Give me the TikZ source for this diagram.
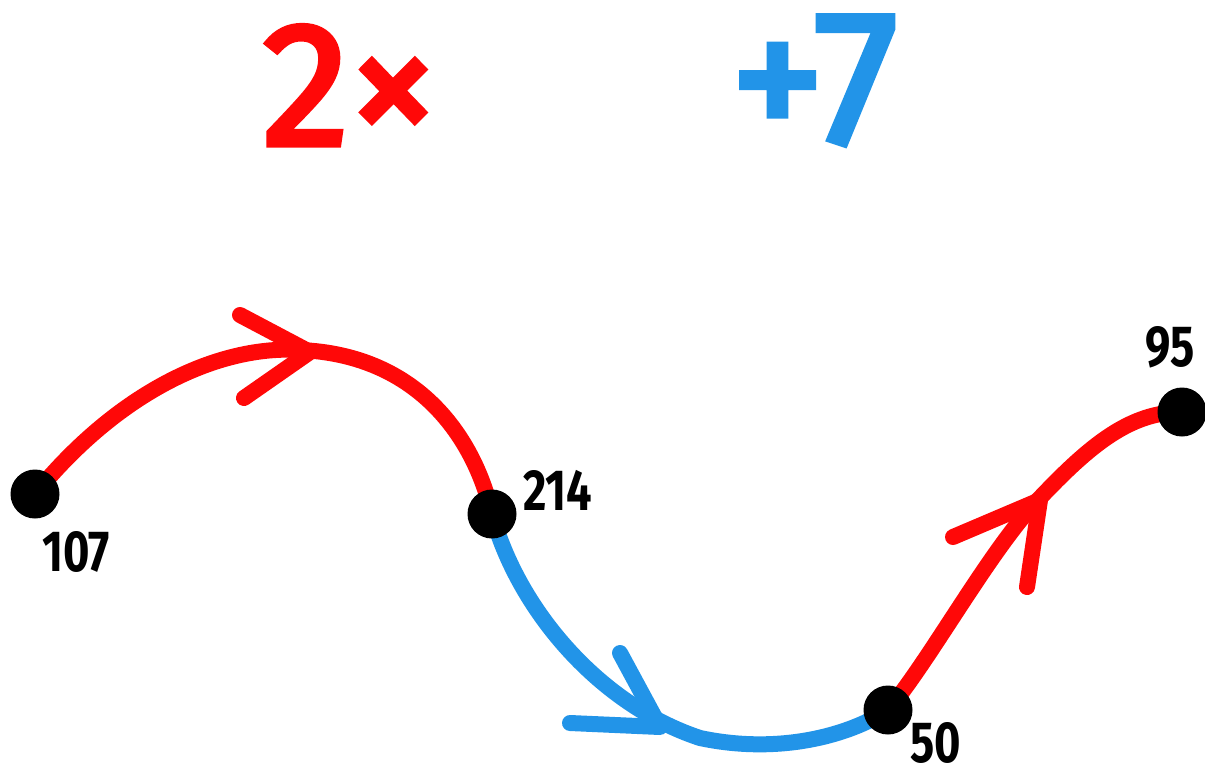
\documentclass[tikz,border=0pt]{standalone}
\usepackage{fontspec}
\setmainfont{Fira Sans}
\newfontfamily\hand[FakeStretch=0.78]{Fira Sans}
\newfontfamily\marker[FakeBold=3]{Fira Sans}
\usetikzlibrary{backgrounds}
\definecolor{mred}{RGB}{255,8,8}
\definecolor{mblue}{RGB}{34,148,232}
\tikzset{
  dot/.style={circle,fill=black,minimum size=49pt,inner sep=0pt},
  numlbl/.style={font=\hand\bfseries\fontsize{58}{58}\selectfont,inner sep=0pt,text=black},
  bigtxt/.style={font=\marker\fontsize{176}{176}\selectfont,inner sep=0pt},
  redpath/.style={draw=mred,line width=16pt,line cap=round,line join=round},
  bluepath/.style={draw=mblue,line width=16pt,line cap=round,line join=round},
}
\begin{document}
\begin{tikzpicture}[x=1pt,y=-1pt]
\useasboundingbox (0,0) rectangle (1205,777);
% top labels
\node[bigtxt,text=mred,anchor=base west] (t1) at (262,145) {2×};
\node[bigtxt,text=mblue,anchor=base west,font=\marker\fontsize{190}{190}\selectfont] (t2) at (730,143) {+7};
% points
\node[dot] (a) at (35,494) {};
\node[dot] (b) at (492,514) {};
\node[dot] (c) at (888,710) {};
\node[dot] (d) at (1182,412) {};
% number labels
\node[numlbl,anchor=base] (la) at (76,571) {107};
\node[numlbl,anchor=base] (lb) at (558,510) {214};
\node[numlbl,anchor=base] (lc) at (936,762) {50};
\node[numlbl,anchor=base] (ld) at (1170,366) {95};
% arrow vertices
\coordinate (v1) at (310,352);
\coordinate (v2) at (660,727);
\coordinate (v3) at (1040,500);
\begin{scope}[on background layer]
\fill[white] (0,0) rectangle (1205,777);
\path[redpath] (a.center) .. controls (120,390) and (220,345) .. (300,350)
  .. controls (420,355) and (475,440) .. (b.center);
\path[redpath] (240,315) -- (v1) -- (244,398);
\path[bluepath] (b.center) .. controls (518,610) and (600,705) .. (700,738)
  .. controls (780,755) and (850,735) .. (c.center);
\path[bluepath] (620,653) -- (v2) -- (570,723);
\path[redpath] (c.center) .. controls (930,660) and (990,550) .. (1038,500)
  .. controls (1090,445) and (1130,412) .. (d.center);
\path[redpath] (953,537) -- (v3) -- (1027,587);
\end{scope}
\end{tikzpicture}
\end{document}
